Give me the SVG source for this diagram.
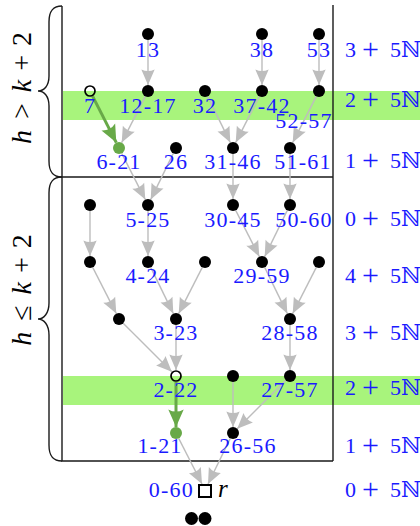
<svg xmlns="http://www.w3.org/2000/svg" width="420" height="526" viewBox="0 0 420 526">
<defs>
<marker id="ah" markerUnits="userSpaceOnUse" markerWidth="20" markerHeight="20" viewBox="-16 -8 18 16" refX="0" refY="0" orient="auto">
<path d="M0,0 L-14,-6 Q-11,0 -14,6 Z" fill="#bdbdbd"/>
</marker>
<marker id="ahg" markerUnits="userSpaceOnUse" markerWidth="22" markerHeight="22" viewBox="-18 -9 20 18" refX="0" refY="0" orient="auto">
<path d="M0,0 L-16,-7 Q-12,0 -16,7 Z" fill="#68a948"/>
</marker>
</defs>
<style>
.e{stroke:#bdbdbd;stroke-width:1.4;fill:none;marker-end:url(#ah)}
.g{stroke:#68a948;stroke-width:3;fill:none;marker-end:url(#ahg)}
.n{fill:#000}
.ng{fill:#68a948}
.no{fill:none;stroke:#000;stroke-width:1.7}
.lb{font-family:"Liberation Serif","DejaVu Serif",serif;font-size:22px;fill:#1a1aff;text-anchor:middle;letter-spacing:1.2px}
.lbe{font-family:"Liberation Serif","DejaVu Serif",serif;font-size:22px;fill:#1a1aff;text-anchor:end;letter-spacing:1.2px}
.rl{font-family:"Liberation Serif","DejaVu Serif",serif;font-size:22px;fill:#1a1aff}
.pl{font-size:30px}
.mt{font-family:"Liberation Serif","DejaVu Serif",serif;font-size:28px;fill:#000;text-anchor:middle}
.rr{font-family:"Liberation Serif","DejaVu Serif",serif;font-size:25px;font-style:italic;fill:#000}
.band{fill:#a8f47c}
.box{stroke:#1a1a1a;stroke-width:1.4;fill:none}
</style>

<g id="bands">
<rect class="band" x="63" y="91" width="357" height="29"/>
<rect class="band" x="63" y="376" width="357" height="29"/>
</g>

<g id="frame">
<path class="box" d="M62,6 L62,461 L333,461 M62,177 L333,177 M333,5 L333,461"/>
<path class="box" d="M62,6 C52,6 49,12 49,22 L49,76 C49,86 44,91 38,91 C44,91 49,96 49,106 L49,161 C49,171 52,177 62,177"/>
<path class="box" d="M62,177 C52,177 49,183 49,193 L49,303 C49,313 44,319 38,319 C44,319 49,325 49,335 L49,445 C49,455 52,461 62,461"/>
<text class="mt" transform="translate(31,88) rotate(-90)"><tspan font-style="italic">h</tspan><tspan dx="11">&gt;</tspan><tspan dx="11" font-style="italic">k</tspan><tspan dx="9">+</tspan><tspan dx="9">2</tspan></text>
<text class="mt" transform="translate(31,290) rotate(-90)"><tspan font-style="italic">h</tspan><tspan dx="11">≤</tspan><tspan dx="11" font-style="italic">k</tspan><tspan dx="9">+</tspan><tspan dx="9">2</tspan></text>
</g>

<g id="connectors">
<path class="e" d="M148,40 L148,85"/>
<path class="e" d="M262,40 L262,85"/>
<path class="e" d="M319,40 L319,85"/>
<path class="e" d="M145.3,96.4 L121.7,142.6"/>
<path class="e" d="M207.7,96.4 L230.3,142.6"/>
<path class="e" d="M259.3,96.4 L235.7,142.6"/>
<path class="e" d="M316.3,96.4 L292.7,142.6"/>
<path class="e" d="M121.7,153.4 L145.3,199.6"/>
<path class="e" d="M173.3,153.4 L150.7,199.6"/>
<path class="e" d="M233,154 L233,199"/>
<path class="e" d="M290,154 L290,199"/>
<path class="e" d="M90,211 L90,256"/>
<path class="e" d="M148,211 L148,256"/>
<path class="e" d="M235.7,210.4 L259.3,256.6"/>
<path class="e" d="M287.3,210.4 L264.7,256.6"/>
<path class="e" d="M92.7,267.4 L116.3,313.6"/>
<path class="e" d="M150.7,267.4 L173.3,313.6"/>
<path class="e" d="M202.3,267.4 L178.7,313.6"/>
<path class="e" d="M264.7,267.4 L287.3,313.6"/>
<path class="e" d="M316.3,267.4 L292.7,313.6"/>
<path class="e" d="M123.2,323.2 L171.8,371.8"/>
<path class="e" d="M176,325 L176,370"/>
<path class="e" d="M290,325 L290,370"/>
<path class="e" d="M233,382 L233,427"/>
<path class="e" d="M285.8,380.2 L237.2,428.8"/>
<path class="e" d="M178.7,438.4 L202,484"/>
<path class="e" d="M230.3,438.4 L208,484"/>
<path class="g" d="M92.7,96.4 L116.3,142.6"/>
<path class="g" d="M176,382 L176,427"/>
</g>

<g id="nodes">
<circle class="n" cx="148" cy="34" r="6"/>
<circle class="n" cx="262" cy="34" r="6"/>
<circle class="n" cx="319" cy="34" r="6"/>
<circle class="no" cx="90" cy="91" r="5"/>
<circle class="n" cx="148" cy="91" r="6"/>
<circle class="n" cx="205" cy="91" r="6"/>
<circle class="n" cx="262" cy="91" r="6"/>
<circle class="n" cx="319" cy="91" r="6"/>
<circle class="ng" cx="119" cy="148" r="6"/>
<circle class="n" cx="176" cy="148" r="6"/>
<circle class="n" cx="233" cy="148" r="6"/>
<circle class="n" cx="290" cy="148" r="6"/>
<circle class="n" cx="90" cy="205" r="6"/>
<circle class="n" cx="148" cy="205" r="6"/>
<circle class="n" cx="233" cy="205" r="6"/>
<circle class="n" cx="290" cy="205" r="6"/>
<circle class="n" cx="90" cy="262" r="6"/>
<circle class="n" cx="148" cy="262" r="6"/>
<circle class="n" cx="205" cy="262" r="6"/>
<circle class="n" cx="262" cy="262" r="6"/>
<circle class="n" cx="319" cy="262" r="6"/>
<circle class="n" cx="119" cy="319" r="6"/>
<circle class="n" cx="176" cy="319" r="6"/>
<circle class="n" cx="290" cy="319" r="6"/>
<circle class="no" cx="176" cy="376" r="5"/>
<circle class="n" cx="233" cy="376" r="6"/>
<circle class="n" cx="290" cy="376" r="6"/>
<circle class="ng" cx="176" cy="433" r="6"/>
<circle class="n" cx="233" cy="433" r="6"/>
<rect x="199" y="485" width="12" height="12" fill="#fff" stroke="#000" stroke-width="2"/>
<text x="218" y="497" class="rr">r</text>
<circle class="n" cx="191.5" cy="518.5" r="6.5"/>
<circle class="n" cx="205" cy="518.5" r="6.5"/>
</g>

<g id="labels">
<text class="lb" x="148" y="57">13</text>
<text class="lb" x="262" y="57">38</text>
<text class="lb" x="319" y="57">53</text>
<text class="lb" x="90" y="113">7</text>
<text class="lb" x="148" y="113">12-17</text>
<text class="lb" x="205" y="113">32</text>
<text class="lb" x="262" y="113">37-42</text>
<text class="lb" x="304" y="128">52-57</text>
<text class="lb" x="119" y="169">6-21</text>
<text class="lb" x="176" y="169">26</text>
<text class="lb" x="233" y="169">31-46</text>
<text class="lb" x="303" y="169">51-61</text>
<text class="lb" x="148" y="227">5-25</text>
<text class="lb" x="233" y="227">30-45</text>
<text class="lb" x="304" y="227">50-60</text>
<text class="lb" x="148" y="283">4-24</text>
<text class="lb" x="262" y="283">29-59</text>
<text class="lb" x="176" y="340">3-23</text>
<text class="lb" x="290" y="340">28-58</text>
<text class="lb" x="176" y="397">2-22</text>
<text class="lb" x="290" y="397">27-57</text>
<text class="lb" x="160" y="453">1-21</text>
<text class="lb" x="248" y="453">26-56</text>
<text class="lbe" x="194" y="497">0-60</text>
</g>

<g id="residues">
<text class="rl" y="57"><tspan x="345">3</tspan><tspan x="362" dy="2" class="pl">+</tspan><tspan x="390" dy="-2">5ℕ</tspan></text>
<text class="rl" y="107"><tspan x="345">2</tspan><tspan x="362" dy="2" class="pl">+</tspan><tspan x="390" dy="-2">5ℕ</tspan></text>
<text class="rl" y="168"><tspan x="345">1</tspan><tspan x="362" dy="2" class="pl">+</tspan><tspan x="390" dy="-2">5ℕ</tspan></text>
<text class="rl" y="226"><tspan x="345">0</tspan><tspan x="362" dy="2" class="pl">+</tspan><tspan x="390" dy="-2">5ℕ</tspan></text>
<text class="rl" y="283"><tspan x="345">4</tspan><tspan x="362" dy="2" class="pl">+</tspan><tspan x="390" dy="-2">5ℕ</tspan></text>
<text class="rl" y="340"><tspan x="345">3</tspan><tspan x="362" dy="2" class="pl">+</tspan><tspan x="390" dy="-2">5ℕ</tspan></text>
<text class="rl" y="395"><tspan x="345">2</tspan><tspan x="362" dy="2" class="pl">+</tspan><tspan x="390" dy="-2">5ℕ</tspan></text>
<text class="rl" y="453"><tspan x="345">1</tspan><tspan x="362" dy="2" class="pl">+</tspan><tspan x="390" dy="-2">5ℕ</tspan></text>
<text class="rl" y="497"><tspan x="345">0</tspan><tspan x="362" dy="2" class="pl">+</tspan><tspan x="390" dy="-2">5ℕ</tspan></text>
</g>
</svg>
